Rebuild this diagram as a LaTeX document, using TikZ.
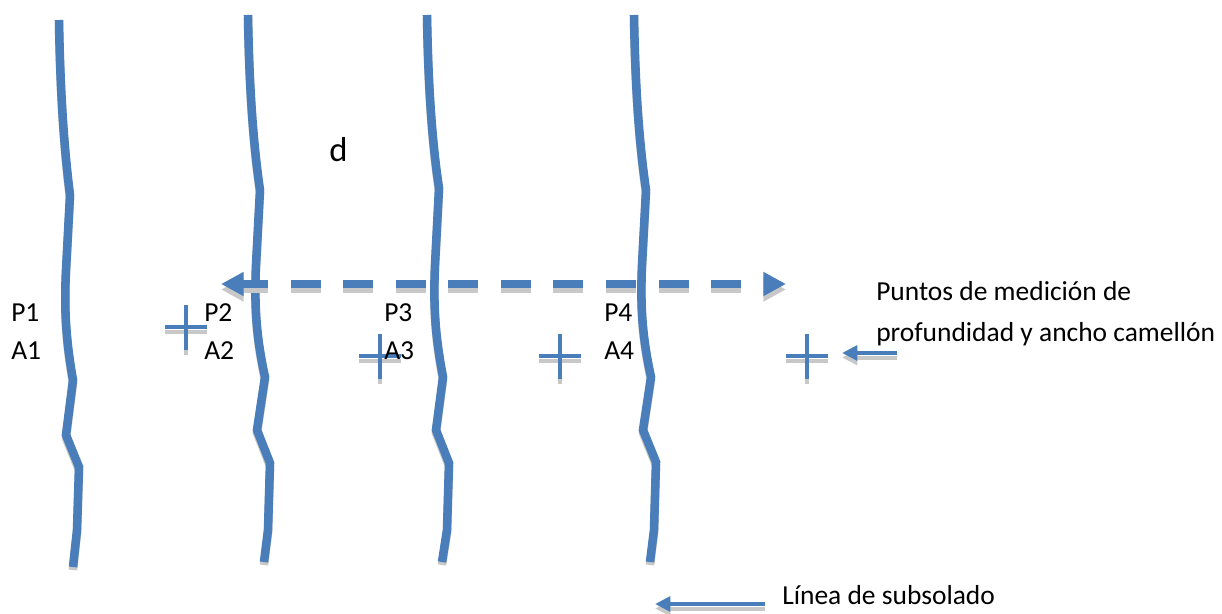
\documentclass[tikz,border=0pt]{standalone}
\usepackage{fontspec}
\setmainfont{Carlito}
\usetikzlibrary{arrows.meta}
\definecolor{lineblue}{HTML}{4A7EBB}
\definecolor{shade}{HTML}{C8C8C8}
\tikzset{
  x=0.75pt,y=-0.75pt,
  furrow/.style={line width=6.4pt,line join=miter},
  crossbar/.style={line width=3pt},
  pointer/.style={line width=3pt,-{Triangle[length=11.5pt,width=11pt]}},
  span/.style={line width=5.4pt,dash pattern=on 22.5pt off 16.9pt,dash phase=3pt,
    {Triangle[length=17pt,width=17pt]}-{Triangle[length=17pt,width=17pt]}},
  label/.style={anchor=base west,inner sep=0pt,font=\fontsize{20.6pt}{24pt}\selectfont},
}
% #1 style, #2 shadow offset (px, downward), #3 path
\newcommand{\castline}[3]{%
  \begin{scope}[yshift=-#2*0.75pt]
    \draw[#1,draw=shade] #3;
  \end{scope}
  \draw[#1,draw=lineblue] #3;
}
\newcommand{\markcross}[3]{%
  \coordinate (#1w) at (#2-21,#3);
  \coordinate (#1e) at (#2+21,#3);
  \coordinate (#1n) at (#2,#3-22);
  \coordinate (#1s) at (#2,#3+23);
  \castline{crossbar}{4.5}{(#2-21,#3) -- (#2+21,#3)}
  \castline{crossbar}{4.5}{(#2,#3-22) -- (#2,#3+23)}
}
\begin{document}
\begin{tikzpicture}
\useasboundingbox (0,0) rectangle (1222,614);
% subsoiling lines
\castline{furrow}{3}{(59,20) .. controls (60,80) and (63,140) .. (70,195) -- (66,270) .. controls (64,310) and (66,340) .. (73,380) -- (66,435) -- (79,467) -- (77,530) -- (73,567)}
\castline{furrow}{3}{(248,15) .. controls (249,75) and (252,135) .. (260,190) -- (256,265) .. controls (254,310) and (257,340) .. (265,377) -- (257,430) -- (270,463) -- (268,530) -- (264,562)}
\castline{furrow}{3}{(427,15) .. controls (428,75) and (431,135) .. (439,188) -- (435,265) .. controls (433,310) and (436,340) .. (443,377) -- (436,430) -- (449,463) -- (447,530) -- (442,562)}
\castline{furrow}{3}{(634,15) .. controls (635,75) and (638,135) .. (646,190) -- (642,265) .. controls (640,310) and (643,340) .. (651,377) -- (643,430) -- (656,462) -- (654,530) -- (650,562)}
% measurement crosses
\markcross{a}{186}{327}
\markcross{b}{380}{356}
\markcross{c}{560}{356}
\markcross{d}{807}{356}
% dashed width arrow
\coordinate (spanL) at (221,284);
\coordinate (spanR) at (786,284);
\castline{span}{5.5}{(221,284) -- (786,284)}
% labels
\node[label] (p1) at (11,321) {P1};
\node[label] (a1) at (11,359) {A1};
\node[label] (p2) at (204,321) {P2};
\node[label] (a2) at (204,359) {A2};
\node[label] (p3) at (384,321) {P3};
\node[label] (a3) at (384,359) {A3};
\node[label] (p4) at (604,321) {P4};
\node[label] (a4) at (604,359) {A4};
\node[label,font=\fontsize{26pt}{30pt}\selectfont] (dlab) at (329,161) {d};
\node[label] (puntos1) at (876,300) {Puntos de medición de};
\node[label] (puntos2) at (876,341) {profundidad y ancho camellón};
\node[label] (linea) at (782,604) {Línea de subsolado};
% pointers
\castline{pointer}{4.5}{(897,353) -- (842,353)}
\castline{pointer}{4.5}{(765,604) -- (655,604)}
\end{tikzpicture}
\end{document}
